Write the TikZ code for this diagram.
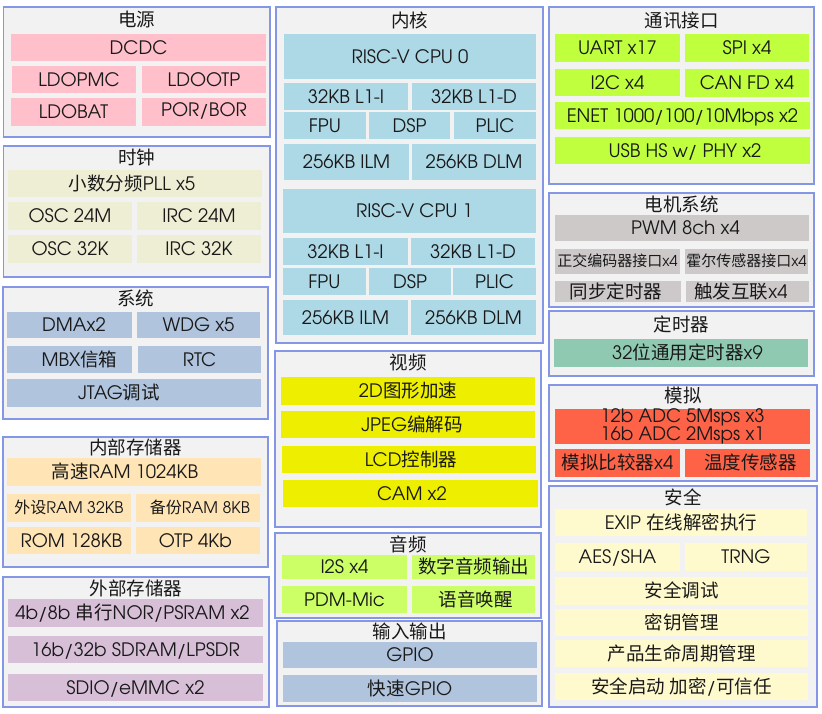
\documentclass[tikz,border=0pt]{standalone}
\usepackage{fontspec}
\setmainfont{TeX Gyre Adventor}
\newfontfamily\cjk{Noto Sans CJK SC}
\newcommand\zh[1]{{\cjk #1}}
\newcommand\sh[2]{\hspace*{#1pt}#2\hspace*{-#1pt}}
\definecolor{pfill}{HTML}{F2F2F2}
\definecolor{pborder}{HTML}{8596E6}
\definecolor{cpink}{HTML}{FFC0CB}
\definecolor{cbeige}{HTML}{EEEED5}
\definecolor{csteel}{HTML}{B0C4DE}
\definecolor{cmocc}{HTML}{FFE4B5}
\definecolor{cthis}{HTML}{D8BFD8}
\definecolor{clblue}{HTML}{ADD8E6}
\definecolor{cyel}{HTML}{EEEE00}
\definecolor{caudio}{HTML}{CCFF66}
\definecolor{ccomm}{HTML}{C0FF3E}
\definecolor{cmotor}{HTML}{CDC9C9}
\definecolor{ctimer}{HTML}{8FC9B1}
\definecolor{ctomato}{HTML}{FF6347}
\definecolor{clemon}{HTML}{FFFACD}
% box: x1 y1 x2 y2 colour name text ; optional style
\newcommand\bx[8][]{\pgfmathsetmacro\myw{#4-#2}\pgfmathsetmacro\myh{#5-#3}%
  \node[bx, fill=#6, minimum width=\myw pt, minimum height=\myh pt, #1] (#7) at ({(#2+#4)/2},{(#3+#5)/2}) {#8};}
\newcommand\pn[6]{\pgfmathsetmacro\myw{#3-#1}\pgfmathsetmacro\myh{#4-#2}%
  \node[panel, minimum width=\myw pt, minimum height=\myh pt] (#5) at ({(#1+#3)/2},{(#2+#4)/2}) {};%
  \node[ttl] (#5t) at ({(#1+#3)/2},#6) {\zh{#5}};}
\tikzset{
  panel/.style={draw=pborder, fill=pfill, line width=1.3pt, inner sep=0pt},
  bx/.style={inner sep=0pt, text height=13.3pt, text depth=0pt},
  ttl/.style={inner sep=0pt, text height=13.3pt, text depth=0pt},
  small/.style={font=\fontsize{15pt}{17pt}\selectfont, text height=10.8pt},
  mid/.style={font=\fontsize{16pt}{18pt}\selectfont, text height=11.5pt}
}
\begin{document}
\begin{tikzpicture}[x=1pt, y=-1pt, font=\fontsize{18.5pt}{20pt}\selectfont, text=black!90]
\useasboundingbox (0,0) rectangle (822,713);
% ---------- column 1 ----------
\pn{3.3}{7}{270}{137}{电源}{20}
\bx{11}{34}{266}{61}{cpink}{dcdc}{DCDC}
\bx{12}{66}{136}{93}{cpink}{ldopmc}{\sh{5}{LDOPMC}}
\bx{142}{66}{266}{93}{cpink}{ldootp}{LDOOTP}
\bx{11}{98}{136}{126}{cpink}{ldobat}{LDOBAT}
\bx{142}{98}{266}{126}{cpink}{porbor}{\raisebox{2pt}{POR/BOR}}

\pn{3.3}{146}{270}{277}{时钟}{158}
\bx{8}{170}{262}{197}{cbeige}{pll}{\sh{-3}{\zh{小数分频}PLL x5}}
\bx{8}{202}{132}{230}{cbeige}{osc24}{OSC 24M}
\bx{137}{202}{261}{230}{cbeige}{irc24}{IRC 24M}
\bx{8}{235}{132}{263}{cbeige}{osc32}{OSC 32K}
\bx{137}{235}{261}{263}{cbeige}{irc32}{IRC 32K}

\pn{3}{287}{268}{419}{系统}{298.5}
\bx{7}{312}{132}{338}{csteel}{dma}{\sh{4.5}{DMAx2}}
\bx{137}{312}{260}{338}{csteel}{wdg}{WDG x5}
\bx{7}{346}{132}{373}{csteel}{mbx}{\sh{10}{MBX\zh{信箱}}}
\bx{138}{346}{261}{373}{csteel}{rtc}{RTC}
\bx{7}{379}{261}{407}{csteel}{jtag}{\sh{-15}{JTAG\zh{调试}}}

\pn{3}{437}{268}{567}{内部存储器}{448}
\bx{7}{458}{261}{486}{cmocc}{hsram}{\sh{-9}{\zh{高速}RAM 1024KB}}
\bx[mid]{7}{494}{131}{522}{cmocc}{pram}{\zh{外设}RAM 32KB}
\bx[mid]{136}{494}{260}{522}{cmocc}{bram}{\sh{2}{\zh{备份}RAM 8KB}}
\bx{7}{527}{131}{554}{cmocc}{rom}{\sh{2.5}{ROM 128KB}}
\bx{136}{527}{260}{554}{cmocc}{otp}{\sh{-2.5}{OTP 4Kb}}

\pn{3}{577}{269}{707}{外部存储器}{588.5}
\bx{8}{599}{263}{627}{cthis}{nor}{\sh{-3}{4b/8b \zh{串行}NOR/PSRAM x2}}
\bx{8}{636}{263}{663}{cthis}{sdram}{16b/32b SDRAM/LPSDR}
\bx{8}{674}{263}{701}{cthis}{sdio}{SDIO/eMMC x2}

% ---------- column 2 ----------
\pn{276}{7}{543}{343}{内核}{20.5}
\bx{284}{34}{536}{79}{clblue}{cpu0}{RISC-V CPU 0}
\bx{284}{83}{408}{110}{clblue}{li0}{32KB L1-I}
\bx{412}{83}{536}{110}{clblue}{ld0}{32KB L1-D}
\bx{284}{112}{366}{139}{clblue}{fpu0}{FPU}
\bx{369}{112}{450}{139}{clblue}{dsp0}{DSP}
\bx{454}{112}{536}{139}{clblue}{plic0}{PLIC}
\bx{284}{144}{409}{180}{clblue}{ilm0}{256KB ILM}
\bx{412}{144}{536}{180}{clblue}{dlm0}{256KB DLM}
\bx{283}{189}{536}{233}{clblue}{cpu1}{\sh{5}{RISC-V CPU 1}}
\bx{283}{238}{408}{265}{clblue}{li1}{32KB L1-I}
\bx{411}{238}{535}{265}{clblue}{ld1}{32KB L1-D}
\bx{283}{268}{366}{295}{clblue}{fpu1}{FPU}
\bx{369}{268}{451}{295}{clblue}{dsp1}{DSP}
\bx{453}{268}{536}{295}{clblue}{plic1}{PLIC}
\bx{283}{300}{408}{335}{clblue}{ilm1}{256KB ILM}
\bx{411}{300}{536}{335}{clblue}{dlm1}{256KB DLM}

\pn{275}{351}{541}{527}{视频}{363}
\bx{281}{377}{535}{405}{cyel}{g2d}{2D\zh{图形加速}}
\bx{281}{411}{535}{438}{cyel}{jpeg}{\sh{4}{JPEG\zh{编解码}}}
\bx{282}{446}{536}{473}{cyel}{lcd}{\sh{2}{LCD\zh{控制器}}}
\bx{283}{480}{538}{507}{cyel}{cam}{\sh{1.5}{CAM x2}}

\pn{275}{533}{541}{618}{音频}{545}
\bx{282}{555}{407}{579}{caudio}{i2s}{I2S x4}
\bx{412}{555}{535}{579}{caudio}{dao}{\zh{数字音频输出}}
\bx{282}{586}{407}{613}{caudio}{pdm}{PDM-Mic}
\bx{412}{586}{535}{613}{caudio}{vwake}{\sh{2}{\zh{语音唤醒}}}

\pn{277}{621}{542}{706}{输入输出}{632}
\bx{283}{642}{537}{668}{csteel}{gpio}{GPIO}
\bx{283}{675}{537}{702}{csteel}{fgpio}{\zh{快速}GPIO}

% ---------- column 3 ----------
\pn{549}{7}{814}{184}{通讯接口}{21}
\bx{555}{34}{680}{62}{ccomm}{uart}{UART x17}
\bx{685}{34}{809}{62}{ccomm}{spi}{SPI x4}
\bx{555}{69}{680}{96}{ccomm}{i2c}{I2C x4}
\bx{685}{69}{809}{97}{ccomm}{can}{CAN FD x4}
\bx{555}{102}{810}{129}{ccomm}{enet}{ENET 1000/100/10Mbps x2}
\bx{555}{137}{810}{164}{ccomm}{usb}{\sh{2.5}{USB HS w/ PHY x2}}

\pn{549}{193}{814}{307}{电机系统}{205}
\bx{555}{215}{809}{241}{cmotor}{pwm}{\sh{3.5}{PWM 8ch x4}}
\bx[small]{555}{249}{680}{274}{cmotor}{qei}{\zh{正交编码器接口}x4}
\bx[small]{685}{249}{808}{274}{cmotor}{hall}{\zh{霍尔传感器接口}x4}
\bx{555}{281}{681}{302}{cmotor}{synt}{\sh{-2}{\zh{同步定时器}}}
\bx{686}{281}{809}{302}{cmotor}{trig}{\sh{-6.5}{\zh{触发互联}x4}}

\pn{549}{311}{814}{376}{定时器}{325}
\bx{554}{339}{808}{367}{ctimer}{gpt}{\sh{6.5}{32\zh{位通用定时器}x9}}

\pn{549}{385}{817}{481}{模拟}{395.5}
\bx[align=center, text height={}, text depth={}, font=\fontsize{18.5pt}{17pt}\selectfont]{555}{409}{810}{444}{ctomato}{adc}{12b ADC 5Msps x3\\16b ADC 2Msps x1}
\bx{555}{449}{680}{477}{ctomato}{acmp}{\zh{模拟比较器}x4}
\bx{685}{449}{810}{477}{ctomato}{tsns}{\sh{3}{\zh{温度传感器}}}

\pn{549}{486}{817}{707}{安全}{497.5}
\bx{555}{509}{807}{536}{clemon}{exip}{EXIP \zh{在线解密执行}}
\bx{555}{543}{680}{571}{clemon}{aes}{AES/SHA}
\bx{685}{543}{807}{571}{clemon}{trng}{TRNG}
\bx{555}{577}{808}{605}{clemon}{sdbg}{\zh{安全调试}}
\bx{555}{609}{808}{636}{clemon}{kman}{\zh{密钥管理}}
\bx{555}{640}{808}{667}{clemon}{plc}{\zh{产品生命周期管理}}
\bx{555}{673}{808}{700}{clemon}{sboot}{\zh{安全启动 加密}/\zh{可信任}}
\end{tikzpicture}
\end{document}
